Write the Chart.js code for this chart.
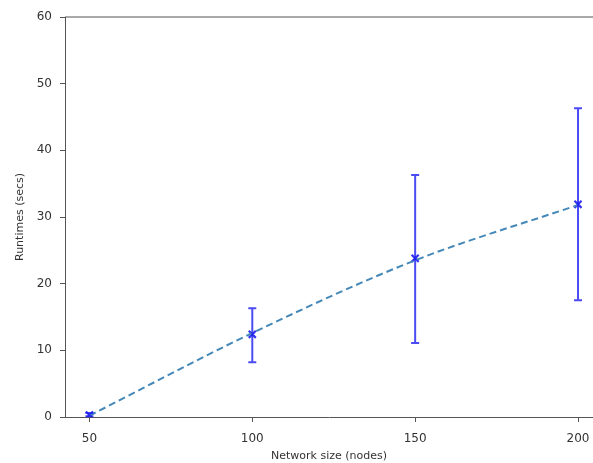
<!DOCTYPE html>
<html>
<head>
<meta charset="utf-8">
<script src="https://cdn.jsdelivr.net/npm/chart.js@4/dist/chart.umd.min.js"></script>
<style>
  html, body { margin: 0; padding: 0; background: #fff; overflow: hidden; }
</style>
</head>
<body>
<canvas id="chart" width="593" height="463"></canvas>
<script>
// network sizes (nodes) and measured runtimes (secs)
const sizes = [50, 100, 150, 200];
const meanRuntime = [0.3, 12.4, 23.8, 31.9];
const errLow = [0.1, 8.2, 11.1, 17.5];
const errHigh = [0.6, 16.3, 36.3, 46.3];
// dashed trend curve
const fitRuntime = [0.2, 12.6, 23.5, 31.8];
const xTicks = [50, 100, 150, 200];
const yTicks = [0, 10, 20, 30, 40, 50, 60];

const errorBars = {
    id: 'errorBars',
    afterDatasetsDraw(chart) {
        const ctx = chart.ctx;
        const x = chart.scales.x, y = chart.scales.y;
        ctx.save();
        ctx.strokeStyle = 'rgba(30,30,240,0.8)';
        ctx.lineWidth = 2;
        sizes.forEach((s, i) => {
            const px = x.getPixelForValue(s);
            const top = y.getPixelForValue(errHigh[i]);
            const bot = y.getPixelForValue(errLow[i]);
            ctx.beginPath();
            ctx.moveTo(px, top); ctx.lineTo(px, bot);
            ctx.moveTo(px - 4, top); ctx.lineTo(px + 4, top);
            ctx.moveTo(px - 4, bot); ctx.lineTo(px + 4, bot);
            ctx.stroke();
        });
        ctx.restore();
    }
};

// top spine only (the right side of the figure is cut off)
const topSpine = {
    id: 'topSpine',
    afterDraw(chart) {
        const a = chart.chartArea, ctx = chart.ctx;
        ctx.save();
        ctx.strokeStyle = '#555';
        ctx.lineWidth = 1.2;
        ctx.beginPath();
        ctx.moveTo(a.left, a.top);
        ctx.lineTo(chart.width, a.top);
        ctx.stroke();
        ctx.restore();
    }
};

const ctx = document.getElementById('chart').getContext('2d');
new Chart(ctx, {
    type: 'line',
    data: {
        datasets: [
            {
                label: 'fit',
                data: sizes.map((s, i) => ({x: s, y: fitRuntime[i]})),
                borderColor: '#4588b8',
                borderWidth: 2,
                borderDash: [7, 4],
                pointRadius: 0,
                cubicInterpolationMode: 'monotone',
                fill: false
            },
            {
                label: 'runtime',
                data: sizes.map((s, i) => ({x: s, y: meanRuntime[i]})),
                showLine: false,
                pointStyle: 'crossRot',
                pointRadius: 5,
                borderColor: 'rgba(30,30,240,0.9)',
                pointBorderWidth: 2.2
            }
        ]
    },
    options: {
        responsive: false,
        animation: false,
        layout: { autoPadding: false, padding: { top: 17, right: 0, left: 0, bottom: 0 } },
        plugins: {
            legend: { display: false },
            tooltip: { enabled: false }
        },
        scales: {
            x: {
                type: 'linear',
                min: 42.5,
                max: 204.6,
                afterBuildTicks: (scale) => { scale.ticks = xTicks.map(v => ({value: v})); },
                afterFit: (scale) => {
                    scale.height = 46;
                    scale.paddingLeft = 0;
                    scale.paddingRight = 0;
                },
                grid: { drawOnChartArea: false, drawTicks: true, tickLength: 5, color: '#555' },
                border: { color: '#555' },
                ticks: { color: '#333', font: { family: 'DejaVu Sans', size: 12 }, padding: 10 },
                title: {
                    display: true,
                    text: 'Network size (nodes)',
                    color: '#333',
                    font: { family: 'DejaVu Sans', size: 11 },
                    padding: { top: 0, bottom: 0 }
                }
            },
            y: {
                min: 0,
                max: 60,
                afterBuildTicks: (scale) => { scale.ticks = yTicks.map(v => ({value: v})); },
                afterFit: (scale) => { scale.width = 65; },
                grid: { drawOnChartArea: false, drawTicks: true, tickLength: 5, color: '#555' },
                border: { color: '#555' },
                ticks: { color: '#333', font: { family: 'DejaVu Sans', size: 12 }, padding: 8 },
                title: {
                    display: true,
                    text: 'Runtimes (secs)',
                    color: '#333',
                    font: { family: 'DejaVu Sans', size: 11 },
                    padding: { top: 14, bottom: 4 }
                }
            }
        }
    },
    plugins: [errorBars, topSpine]
});
</script>
</body>
</html>
